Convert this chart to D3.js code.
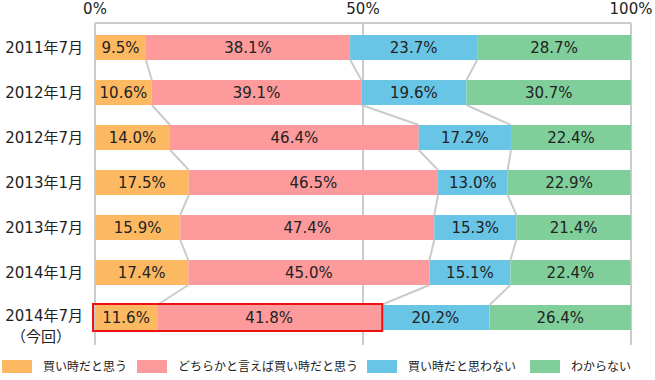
<!DOCTYPE html>
<html lang="ja">
<head>
<meta charset="UTF-8">
<title>買い時意識の推移</title>
<style>
    body { margin: 0; background: #fff; }
    svg text { font-family: "DejaVu Sans", "Noto Sans CJK JP", sans-serif; fill: #222; }
    svg text.jp { font-family: "Noto Sans CJK JP", sans-serif; }
</style>
</head>
<body>
<div id="chart"></div>
<script src="https://cdn.jsdelivr.net/npm/d3@7"></script>
<script>
    // data
    const periods = ["2011年7月", "2012年1月", "2012年7月", "2013年1月", "2013年7月", "2014年1月", "2014年7月"];
    const seriesNames = ["買い時だと思う", "どちらかと言えば買い時だと思う", "買い時だと思わない", "わからない"];
    const buyNow = [9.5, 10.6, 14.0, 17.5, 15.9, 17.4, 11.6];
    const ratherBuy = [38.1, 39.1, 46.4, 46.5, 47.4, 45.0, 41.8];
    const notBuy = [23.7, 19.6, 17.2, 13.0, 15.3, 15.1, 20.2];
    const unknown = [28.7, 30.7, 22.4, 22.9, 21.4, 22.4, 26.4];
    const tickValues = [0, 50, 100];
    const colors = ["#fdb962", "#fd9a9b", "#69c5e6", "#80cf9b"];

    const width = 655, height = 380;
    const svg = d3.select("#chart").append("svg")
        .attr("width", width).attr("height", height);

    const x = d3.scaleLinear().domain([0, 100]).range([95, 631]);
    const y = d3.scaleBand().domain(periods).range([25, 340])
        .paddingInner(20 / 45).paddingOuter(10 / 45);

    const rows = periods.map((p, i) => ({ period: p, b: buyNow[i], r: ratherBuy[i], n: notBuy[i], u: unknown[i] }));
    const layers = d3.stack().keys(["b", "r", "n", "u"])(rows);

    // grid lines
    const grid = svg.append("g").attr("stroke", "#c8cdcb").attr("stroke-width", 2);
    grid.selectAll("line.v").data(tickValues).join("line")
        .attr("x1", d => x(d)).attr("x2", d => x(d))
        .attr("y1", 23).attr("y2", 345);
    grid.append("line").attr("x1", x(0)).attr("x2", x(100)).attr("y1", 23).attr("y2", 23);

    svg.append("g").selectAll("text").data(tickValues).join("text")
        .attr("x", d => x(d)).attr("y", 14)
        .attr("text-anchor", "middle")
        .style("font-size", "15px")
        .text(d => d + "%");

    // connecting lines between bars
    const conn = svg.append("g").attr("stroke", "#c8cdcb").attr("stroke-width", 2);
    layers.slice(0, 3).forEach(layer => {
        for (let i = 0; i < periods.length - 1; i++) {
            conn.append("line")
                .attr("x1", x(layer[i][1])).attr("y1", y(periods[i]) + y.bandwidth())
                .attr("x2", x(layer[i + 1][1])).attr("y2", y(periods[i + 1]));
        }
    });

    // bars
    const bars = svg.append("g");
    layers.forEach((layer, k) => {
        bars.append("g").attr("fill", colors[k])
            .selectAll("rect").data(layer).join("rect")
            .attr("x", d => x(d[0]))
            .attr("y", d => y(d.data.period))
            .attr("width", d => x(d[1]) - x(d[0]))
            .attr("height", y.bandwidth());
        bars.append("g").selectAll("text").data(layer).join("text")
            .attr("x", d => (x(d[0]) + x(d[1])) / 2)
            .attr("y", d => y(d.data.period) + y.bandwidth() / 2)
            .attr("dy", "0.36em")
            .attr("text-anchor", "middle")
            .style("font-size", "15px")
            .text(d => (d[1] - d[0]).toFixed(1) + "%");
    });

    // highlight for latest period
    const last = periods.length - 1;
    svg.append("rect")
        .attr("x", x(0) - 2).attr("y", y(periods[last]) - 1)
        .attr("width", x(layers[1][last][1]) - x(0) + 3)
        .attr("height", y.bandwidth() + 2)
        .attr("fill", "none").attr("stroke", "#ee1111").attr("stroke-width", 2);

    // row labels
    const labels = svg.append("g");
    labels.selectAll("text").data(periods).join("text")
        .attr("x", 83)
        .attr("y", (d, i) => y(d) + y.bandwidth() / 2 + (i === last ? -2 : 0))
        .attr("dy", "0.36em")
        .attr("text-anchor", "end")
        .style("font-size", "15px")
        .text(d => d);
    labels.append("text").attr("class", "jp")
        .attr("x", 41).attr("y", y(periods[last]) + y.bandwidth() / 2 + 19)
        .attr("dy", "0.36em").attr("text-anchor", "middle")
        .style("font-size", "15px")
        .text("（今回）");

    // legend
    const legendX = [2, 137, 367, 530];
    const legend = svg.append("g");
    seriesNames.forEach((name, k) => {
        legend.append("rect").attr("x", legendX[k]).attr("y", 360)
            .attr("width", 30).attr("height", 13).attr("fill", colors[k]);
        legend.append("text").attr("class", "jp")
            .attr("x", legendX[k] + 41).attr("y", 366.5)
            .attr("dy", "0.36em").style("font-size", "12px").text(name);
    });
</script>
</body>
</html>
